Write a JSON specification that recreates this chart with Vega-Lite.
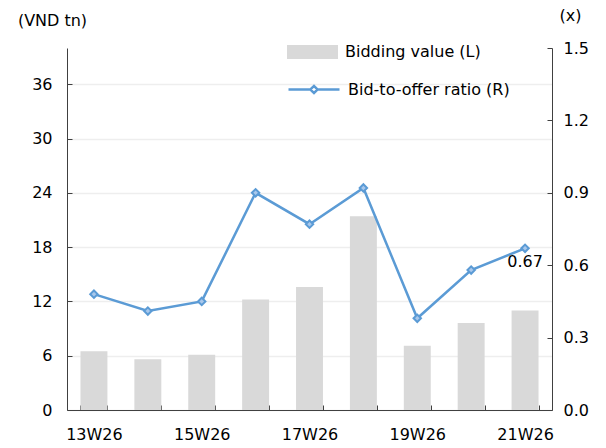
{
  "$schema": "https://vega.github.io/schema/vega-lite/v6.json",
  "autosize": {"type": "none"},
  "width": 485,
  "height": 362,
  "padding": {"left": 67, "top": 48, "right": 54, "bottom": 38},
  "background": "white",
  "config": {
    "font": "DejaVu Sans",
    "view": {"stroke": null},
    "axis": {"labelFont": "DejaVu Sans", "labelFontSize": 16, "labelColor": "#000000", "titleFont": "DejaVu Sans", "titleFontSize": 16, "titleFontWeight": "normal", "titleColor": "#000000", "domainColor": "#404040", "tickColor": "#404040"}
  },
  "data": {
    "values": [
      {"week": "13W26", "bid": 6.5, "ratio": 0.48},
      {"week": "14W26", "bid": 5.6, "ratio": 0.41},
      {"week": "15W26", "bid": 6.1, "ratio": 0.45},
      {"week": "16W26", "bid": 12.2, "ratio": 0.90},
      {"week": "17W26", "bid": 13.6, "ratio": 0.77},
      {"week": "18W26", "bid": 21.4, "ratio": 0.92},
      {"week": "19W26", "bid": 7.1, "ratio": 0.38},
      {"week": "20W26", "bid": 9.6, "ratio": 0.58},
      {"week": "21W26", "bid": 11.0, "ratio": 0.67, "label": "0.67"}
    ]
  },
  "encoding": {
    "x": {
      "field": "week", "type": "nominal", "sort": null,
      "scale": {"paddingInner": 0.5, "paddingOuter": 0.25},
      "axis": {
        "title": null, "labelAngle": 0, "tickBand": "extent", "tickSize": -5,
        "labelPadding": 21, "grid": false,
        "labelExpr": "indexof(['13W26','15W26','17W26','19W26','21W26'], datum.value) >= 0 ? datum.value : ''"
      }
    }
  },
  "layer": [
    {
      "mark": {"type": "bar"},
      "encoding": {
        "y": {
          "field": "bid", "type": "quantitative",
          "scale": {"domain": [0, 40], "nice": false},
          "axis": {
            "title": "(VND tn)", "titleAngle": 0, "titleAlign": "center", "titleBaseline": "middle",
            "titleX": -15, "titleY": -28,
            "values": [0, 6, 12, 18, 24, 30, 36], "tickSize": -5, "labelPadding": 20,
            "grid": true, "gridColor": "#eeeeee", "gridWidth": 1.5
          }
        },
        "fill": {
          "datum": "Bidding value (L)", "type": "nominal",
          "scale": {"range": ["#d9d9d9"]},
          "legend": {
            "title": null, "orient": "none", "legendX": 220, "legendY": -21.5, "padding": 0,
            "symbolType": "M-1,-0.27H1V0.27H-1Z", "symbolSize": 2601, "symbolStrokeWidth": 0,
            "labelFontSize": 16, "labelColor": "#000000", "labelOffset": 7, "labelLimit": 0, "labelFont": "DejaVu Sans"
          }
        }
      }
    },
    {
      "layer": [
        {
          "mark": {"type": "line", "strokeWidth": 2.5},
          "encoding": {
            "y": {
              "field": "ratio", "type": "quantitative",
              "scale": {"domain": [0, 1.5], "nice": false},
              "axis": {
                "orient": "right", "title": "(x)", "titleAngle": 0, "titleAlign": "center", "titleBaseline": "middle",
                "titleX": 18, "titleY": -33,
                "values": [0, 0.3, 0.6, 0.9, 1.2, 1.5], "format": ".1f", "tickSize": -5, "labelPadding": 16, "grid": false
              }
            },
            "stroke": {
              "datum": "Bid-to-offer ratio (R)", "type": "nominal",
              "scale": {"range": ["#5b9bd5"]},
              "legend": {
                "title": null, "orient": "none", "legendX": 220, "legendY": 14.5, "padding": 0,
                "symbolType": "M-1,0H-0.14L0,-0.14L0.14,0L0,0.14L-0.14,0ZM0.14,0H1",
                "symbolSize": 2601, "symbolStrokeWidth": 2.5, "symbolFillColor": "transparent",
                "labelFontSize": 16, "labelColor": "#000000", "labelOffset": 7, "labelLimit": 0, "labelFont": "DejaVu Sans"
              }
            }
          }
        },
        {
          "mark": {"type": "point", "shape": "diamond", "size": 55, "filled": true, "fill": "#a9c8ec", "stroke": "#5b9bd5", "strokeWidth": 2, "opacity": 1},
          "encoding": {
            "y": {"field": "ratio", "type": "quantitative"}
          }
        },
        {
          "transform": [{"filter": "isValid(datum.label)"}],
          "mark": {"type": "text", "fontSize": 16, "color": "#000000", "baseline": "top", "align": "center", "dy": 6},
          "encoding": {
            "y": {"field": "ratio", "type": "quantitative"},
            "text": {"field": "label"}
          }
        }
      ]
    }
  ],
  "resolve": {"scale": {"y": "independent"}}
}
